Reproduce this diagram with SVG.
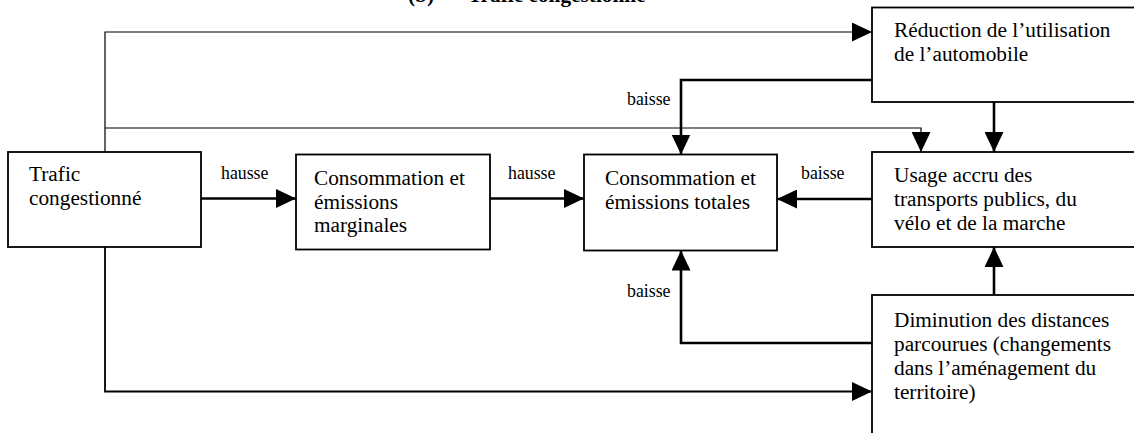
<svg xmlns="http://www.w3.org/2000/svg" width="1134" height="433" viewBox="0 0 1134 433">
<style>
.box{fill:#fff;stroke:#000;stroke-width:1.8}
.t{font-family:"Liberation Serif","Times New Roman",serif;font-size:21.3px;fill:#000}
.lbl{font-family:"Liberation Serif","Times New Roman",serif;font-size:17.8px;fill:#000}
.title{font-family:"Liberation Serif","Times New Roman",serif;font-size:21.3px;font-weight:bold;fill:#000}
.c{fill:none;stroke:#000;stroke-width:2.6}
.thin{fill:none;stroke:#000;stroke-width:1.2}
.med{fill:none;stroke:#000;stroke-width:1.8}
</style>
<defs>
<marker id="ah" markerUnits="userSpaceOnUse" markerWidth="20" markerHeight="19" refX="20" refY="9.5" orient="auto" viewBox="0 0 20 19">
<path d="M0,0 L20,9.5 L0,19 Z" fill="#000"/>
</marker>
</defs>
<rect width="1134" height="433" fill="#fff"/>
<text class="title" x="408" y="1.5">(b)</text>
<text class="title" x="468" y="1.5">Trafic congestionné</text>

<g id="connectors">
<path class="thin" d="M105,152 V32 H872" marker-end="url(#ah)"/>
<path class="thin" d="M105,128 H921 V152" marker-end="url(#ah)"/>
<path class="med" d="M105,247 V391.5 H872" marker-end="url(#ah)"/>
<path class="c" d="M201,198.5 H296" marker-end="url(#ah)"/>
<path class="c" d="M490,198.5 H584" marker-end="url(#ah)"/>
<path class="c" d="M872,199 H777" marker-end="url(#ah)"/>
<path class="c" d="M872,80 H681 V154.5" marker-end="url(#ah)"/>
<path class="c" d="M872,343 H681 V250.5" marker-end="url(#ah)"/>
<path class="c" d="M994,102 V152" marker-end="url(#ah)"/>
<path class="c" d="M994,295 V247" marker-end="url(#ah)"/>
<text class="lbl" x="221" y="179">hausse</text>
<text class="lbl" x="508" y="179">hausse</text>
<text class="lbl" x="801" y="179">baisse</text>
<text class="lbl" x="627" y="105">baisse</text>
<text class="lbl" x="627" y="297">baisse</text>
</g>

<g id="trafic">
<rect class="box" x="8" y="152" width="193" height="95"/>
<text class="t" x="29" y="181">Trafic</text>
<text class="t" x="29" y="205">congestionné</text>
</g>
<g id="marginales">
<rect class="box" x="296" y="154.5" width="194" height="95"/>
<text class="t" x="314" y="185">Consommation et</text>
<text class="t" x="314" y="208.5">émissions</text>
<text class="t" x="314" y="232">marginales</text>
</g>
<g id="totales">
<rect class="box" x="584" y="154.5" width="193" height="96"/>
<text class="t" x="605" y="185">Consommation et</text>
<text class="t" x="605" y="209">émissions totales</text>
</g>
<g id="reduction">
<rect class="box" x="872" y="7.5" width="280" height="94.5"/>
<text class="t" x="894" y="37">Réduction de l’utilisation</text>
<text class="t" x="894" y="61">de l’automobile</text>
</g>
<g id="usage">
<rect class="box" x="872" y="152" width="280" height="95"/>
<text class="t" x="894" y="182">Usage accru des</text>
<text class="t" x="894" y="206">transports publics, du</text>
<text class="t" x="894" y="230">vélo et de la marche</text>
</g>
<g id="diminution">
<rect class="box" x="872" y="295" width="280" height="160"/>
<text class="t" x="894" y="327">Diminution des distances</text>
<text class="t" x="894" y="351">parcourues (changements</text>
<text class="t" x="894" y="375">dans l’aménagement du</text>
<text class="t" x="894" y="399">territoire)</text>
</g>
</svg>
